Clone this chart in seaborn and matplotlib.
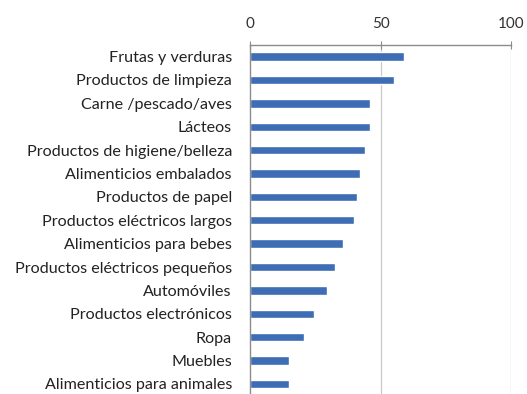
import matplotlib
matplotlib.use("Agg")
import matplotlib.pyplot as plt
import seaborn as sns
import pandas as pd
import numpy as np

categorias = [
    "Frutas y verduras",
    "Productos de limpieza",
    "Carne /pescado/aves",
    "Lácteos",
    "Productos de higiene/belleza",
    "Alimenticios embalados",
    "Productos de papel",
    "Productos eléctricos largos",
    "Alimenticios para bebes",
    "Productos eléctricos pequeños",
    "Automóviles",
    "Productos electrónicos",
    "Ropa",
    "Muebles",
    "Alimenticios para animales",
]
valores = [59, 55, 46, 46, 44, 42, 41, 40, 35.5, 32.5, 29.5, 24.5, 20.5, 15, 15]
ticks_x = [0, 50, 100]

df = pd.DataFrame({"categoria": categorias, "valor": valores})

sns.set_theme(style="white")
plt.rcParams["font.family"] = ["Lato", "DejaVu Sans"]

fig = plt.figure(figsize=(5.27, 3.94), dpi=100)
ax = fig.add_axes([250 / 527, -0.004, 261 / 527, 0.89])

sns.barplot(data=df, x="valor", y="categoria", orient="h", color="#3E6DB5",
            saturation=1, width=0.36, ax=ax)

ax.set_xlim(0, 100)
ax.set_ylim(len(categorias) - 0.5, -0.5)
ax.set_xlabel("")
ax.set_ylabel("")

ax.xaxis.tick_top()
ax.set_xticks(ticks_x)
ax.set_xticklabels([str(t) for t in ticks_x], fontsize=11, color="#333333")
ax.tick_params(axis="x", direction="inout", length=6, width=0.8, color="#8c8c8c", pad=7)

# category labels without major ticks; small ticks between categories
ax.tick_params(axis="y", length=0, pad=13, labelsize=11.6, labelcolor="#222222")
ax.set_yticks(np.arange(-0.5, len(categorias) + 0.5, 1), minor=True)
ax.tick_params(axis="y", which="minor", direction="out", length=4, width=0.8, color="#8c8c8c")

for v in [50, 100]:
    ax.axvline(v, color="#c8c8c8", lw=0.9, zorder=0)

for side in ["right", "bottom"]:
    ax.spines[side].set_visible(False)
ax.spines["top"].set_color("#8c8c8c")
ax.spines["left"].set_color("#8c8c8c")
ax.spines["top"].set_linewidth(1.0)
ax.spines["left"].set_linewidth(1.0)

fig.savefig("out.png", dpi=100)
